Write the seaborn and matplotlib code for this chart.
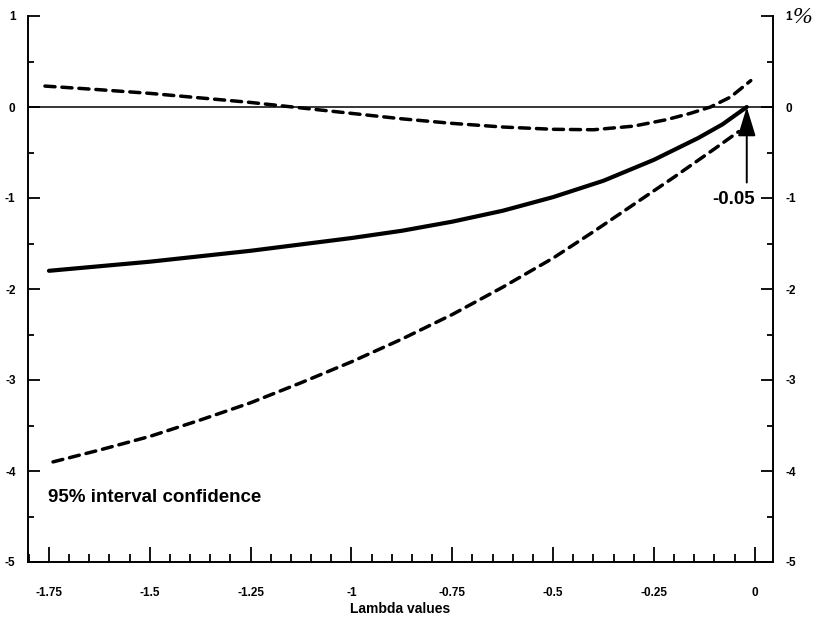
import numpy as np
import pandas as pd
import seaborn as sns
import matplotlib.pyplot as plt
from matplotlib.ticker import MultipleLocator, FixedLocator

### data
lam_mid = [-1.75, -1.625, -1.5, -1.375, -1.25, -1.125, -1.0, -0.875, -0.75,
           -0.625, -0.5, -0.375, -0.25, -0.14, -0.08, -0.02]
est_mid = [-1.80, -1.75, -1.70, -1.64, -1.58, -1.51, -1.44, -1.36, -1.26,
           -1.14, -0.99, -0.81, -0.58, -0.34, -0.19, 0.0]

lam_up = [-1.76, -1.625, -1.5, -1.375, -1.25, -1.125, -1.0, -0.875, -0.75,
          -0.625, -0.5, -0.4, -0.3, -0.22, -0.16, -0.11, -0.06, -0.01]
est_up = [0.23, 0.19, 0.15, 0.10, 0.05, -0.01, -0.07, -0.13, -0.18,
          -0.22, -0.245, -0.25, -0.21, -0.14, -0.07, 0.0, 0.11, 0.29]

lam_low = [-1.74, -1.625, -1.5, -1.375, -1.25, -1.125, -1.0, -0.875, -0.75,
           -0.625, -0.5, -0.4, -0.31, -0.2, -0.1, -0.04]
est_low = [-3.90, -3.77, -3.62, -3.44, -3.25, -3.03, -2.80, -2.55, -2.28,
           -1.98, -1.66, -1.37, -1.10, -0.77, -0.46, -0.27]

x_ticks = [-1.75, -1.5, -1.25, -1.0, -0.75, -0.5, -0.25, 0.0]
x_labels = ['-1.75', '-1.5', '-1.25', '-1', '-0.75', '-0.5', '-0.25', '0']
y_ticks = [1, 0, -1, -2, -3, -4, -5]
y_labels = ['1', '0', '-1', '-2', '-3', '-4', '-5']

sns.set_style('white')
plt.rcParams['font.family'] = ['Liberation Sans', 'DejaVu Sans']
plt.rcParams['font.weight'] = 'bold'
plt.rcParams['axes.unicode_minus'] = False
for k in ['text.color', 'axes.labelcolor', 'xtick.color', 'ytick.color']:
    plt.rcParams[k] = 'black'

fig = plt.figure(figsize=(8.19, 6.25), dpi=100)
ax = fig.add_axes([0.0342, 0.1008, 0.9096, 0.8736])

## curves
sns.lineplot(x=lam_mid, y=est_mid, ax=ax, color='black', linewidth=3.0,
             solid_capstyle='round', solid_joinstyle='round')
sns.lineplot(x=lam_up, y=est_up, ax=ax, color='black', linewidth=2.5,
             linestyle=(0, (2.9, 2.0)), dash_capstyle='round')
sns.lineplot(x=lam_low, y=est_low, ax=ax, color='black', linewidth=2.5,
             linestyle=(0, (2.9, 2.0)), dash_capstyle='round')

ax.axhline(0, color='black', linewidth=1.1)

## arrow to -0.05
ax.annotate('', xy=(-0.02, 0.0), xytext=(-0.02, -0.83),
            arrowprops=dict(arrowstyle='-|>,head_length=1.8,head_width=0.55',
                            color='black', lw=1.4, shrinkA=0, shrinkB=0))
ax.text(-0.052, -1.02, '-0.05', fontsize=13.5, fontweight='bold', ha='center', va='center')

ax.text(-1.752, -4.29, '95% interval confidence', fontsize=13.5, fontweight='bold',
        ha='left', va='center')
ax.text(1.039, 0.997, '%', transform=ax.transAxes, fontsize=17, style='italic',
        fontweight='normal', ha='center', va='center', family=['Liberation Serif', 'DejaVu Serif'])

## axes
ax.set_xlim(-1.802, 0.045)
ax.set_ylim(-5, 1)
ax.xaxis.set_major_locator(FixedLocator(x_ticks))
ax.set_xticklabels(x_labels)
ax.xaxis.set_minor_locator(MultipleLocator(0.05))
ax.yaxis.set_major_locator(FixedLocator(y_ticks))
ax.set_yticklabels(y_labels)
ax.yaxis.set_minor_locator(MultipleLocator(0.5))

ax.tick_params(axis='x', which='both', direction='in', bottom=True, top=False,
               labelsize=8.5, pad=18, width=1.3)
ax.tick_params(axis='x', which='major', length=11)
ax.tick_params(axis='x', which='minor', length=5.5)
ax.tick_params(axis='y', which='both', direction='in', left=True, right=True,
               labelleft=True, labelright=True, labelsize=8.5, pad=9, width=1.3)
ax.tick_params(axis='y', which='major', length=8.5)
ax.tick_params(axis='y', which='minor', length=4.5)

ax.spines['top'].set_visible(False)
for s in ['left', 'right', 'bottom']:
    ax.spines[s].set_linewidth(1.4)
    ax.spines[s].set_color('black')

ax.set_xlabel('Lambda values', fontsize=10, fontweight='bold', labelpad=2)
ax.set_ylabel('')

plt.savefig('out.png', dpi=100)
